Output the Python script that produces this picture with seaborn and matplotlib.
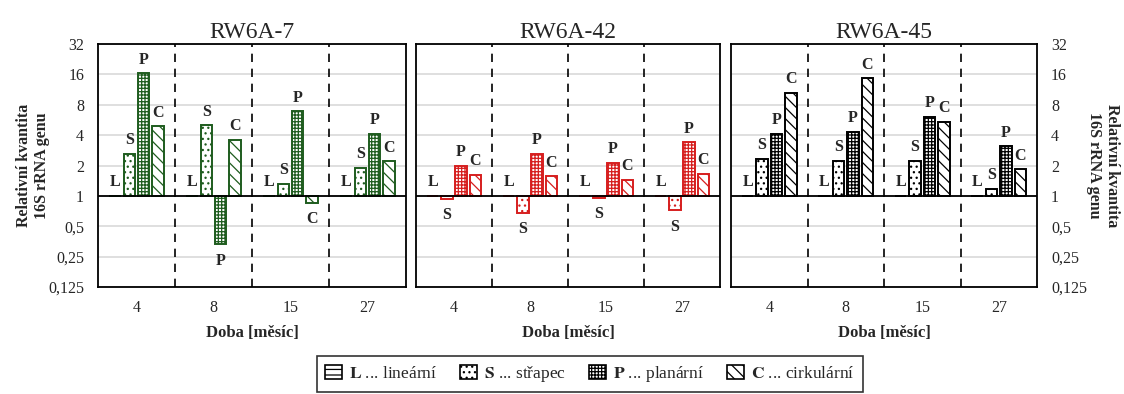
import numpy as np
import pandas as pd
import matplotlib
matplotlib.use('Agg')
import matplotlib.pyplot as plt
from matplotlib.patches import Patch
import seaborn as sns

# data: relative quantity (fold change)
months = ['4', '8', '15', '27']
shapes = ['L', 'S', 'P', 'C']
panels = ['RW6A-7', 'RW6A-42', 'RW6A-45']
rw7 = {'L': [1, 1, 1, 1], 'S': [2.6, 5.0, 1.32, 1.9],
       'P': [16.4, 0.33, 6.9, 4.1], 'C': [4.9, 3.6, 0.85, 2.2]}
rw42 = {'L': [1, 1, 1, 1], 'S': [0.93, 0.68, 0.95, 0.72],
        'P': [1.98, 2.6, 2.14, 3.4], 'C': [1.62, 1.57, 1.44, 1.65]}
rw45 = {'L': [1, 1, 1, 1], 'S': [2.34, 2.24, 2.24, 1.18],
        'P': [4.1, 4.3, 6.1, 3.1], 'C': [10.5, 14.7, 5.4, 1.84]}
colors = ['#1e5c1e', '#d61e1e', '#000000']
hatches = {'L': '---', 'S': '...', 'P': '+++++', 'C': '\\\\\\'}
legend_names = ['lineární', 'střapec', 'planární', 'cirkulární']
ytick_labels = ['0,125', '0,25', '0,5', '1', '2', '4', '8', '16', '32']

sns.set_style('white')
plt.rcParams['font.family'] = ['Liberation Serif', 'DejaVu Serif']
plt.rcParams['mathtext.fontset'] = 'stix'
plt.rcParams['hatch.linewidth'] = 0.9

fig = plt.figure(figsize=(11.24, 3.94), dpi=100)
lefts = [98, 416, 731]
widths = [308, 304, 306]
axes = [fig.add_axes([l / 1124, 107 / 394, w / 1124, 243 / 394]) for l, w in zip(lefts, widths)]

for k, (ax, name, vals, col) in enumerate(zip(axes, panels, [rw7, rw42, rw45], colors)):
    rows = []
    for s in shapes:
        for m, v in zip(months, vals[s]):
            rows.append({'doba': m, 'tvar': s, 'log2': np.log2(v)})
    df = pd.DataFrame(rows)
    for y in range(-3, 6):
        ax.axhline(y, color='#d9d9d9', lw=1.2, zorder=0)
    sns.barplot(data=df, x='doba', y='log2', hue='tvar', order=months, hue_order=shapes,
                width=0.75, gap=0.2, errorbar=None, legend=False, ax=ax,
                palette=['white'] * 4, zorder=3)
    for s, cont in zip(shapes, ax.containers):
        for bar in cont:
            bar.set_facecolor('white')
            bar.set_edgecolor(col)
            bar.set_linewidth(1.4)
            bar.set_hatch(hatches[s])
            h = bar.get_height()
            x = bar.get_x() + bar.get_width() / 2
            if h >= -0.01:
                ax.annotate(s, (x, max(h, 0)), xytext=(0, 4), textcoords='offset points',
                            ha='center', va='bottom', fontsize=11.5, fontweight='bold')
            else:
                ax.annotate(s, (x, h), xytext=(0, -6), textcoords='offset points',
                            ha='center', va='top', fontsize=11.5, fontweight='bold')
    ax.axhline(0, color='black', lw=1.3, zorder=4)
    for xv in [0.5, 1.5, 2.5]:
        ax.axvline(xv, color='black', lw=1.2, ls=(0, (5, 4)), zorder=1)
    ax.set_xlim(-0.5, 3.5)
    ax.set_ylim(-3, 5)
    ax.set_yticks(range(-3, 6))
    ax.set_yticklabels(ytick_labels)
    ax.tick_params(axis='y', length=0, labelsize=11.5, pad=10)
    ax.tick_params(axis='x', length=0, labelsize=11.5, pad=9)
    ax.set_xlabel('Doba [měsíc]', fontsize=12, fontweight='bold', labelpad=7)
    ax.set_ylabel('')
    ax.set_title(name, fontsize=17, pad=4)
    for sp in ax.spines.values():
        sp.set_color('black')
        sp.set_linewidth(1.3)
    if k == 1:
        ax.set_yticklabels([])
    if k == 2:
        ax.yaxis.tick_right()

axes[0].set_ylabel('Relativní kvantita\n16S rRNA genu', fontsize=11.5, fontweight='bold',
                   va='center')
axes[0].yaxis.set_label_coords(-0.212, 0.5)
axes[2].yaxis.set_label_position('right')
axes[2].set_ylabel('Relativní kvantita\n16S rRNA genu', fontsize=11.5, fontweight='bold',
                   rotation=270, va='center')
axes[2].yaxis.set_label_coords(1.215, 0.5)

handles = [Patch(facecolor='white', edgecolor='black', hatch=hatches[s], lw=1.2) for s in shapes]
labels = [f'$\\mathbf{{{s}}}$ ... {n}' for s, n in zip(shapes, legend_names)]
leg = fig.legend(handles, labels, loc='center', bbox_to_anchor=(590 / 1124, 20 / 394), ncol=4,
                 fontsize=12.5, frameon=True, fancybox=False, edgecolor='black',
                 handlelength=1.0, handleheight=0.9, handletextpad=0.4, columnspacing=1.3,
                 borderpad=0.45)
leg.get_frame().set_linewidth(1.2)

fig.savefig('out.png', dpi=100)
